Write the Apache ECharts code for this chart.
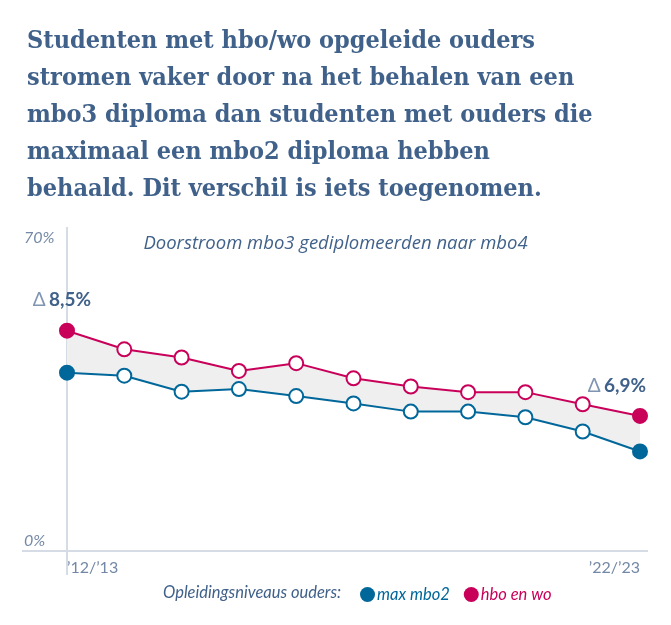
<!DOCTYPE html>
<html>
<head>
<meta charset="utf-8">
<script src="https://cdn.jsdelivr.net/npm/echarts@6/dist/echarts.min.js"></script>
<style>
html,body{margin:0;padding:0;background:#fff;}
#chart{width:671px;height:625px;}
</style>
</head>
<body>
<div id="chart"></div>
<script>
const categories = ["’12/’13","’13/’14","’14/’15","’15/’16","’16/’17","’17/’18","’18/’19","’19/’20","’20/’21","’21/’22","’22/’23"];
const maxMbo2 = [41.2, 40.5, 36.8, 37.4, 35.8, 34.1, 32.2, 32.2, 30.9, 27.6, 23.0];
const hboWo   = [50.9, 46.6, 44.7, 41.6, 43.4, 39.9, 38.0, 36.7, 36.7, 33.9, 31.2];
const deltaLabels = ["8,5%", "6,9%"];
const yTicks = [0, 70];

const BLUE = '#00679a';
const RED = '#c9005a';
const TITLE = '#40618a';
const AXIS = '#d6dce6';
const LABEL = '#7388a6';
const SANS = '"Open Sans", "Noto Sans", sans-serif';

const chart = echarts.init(document.getElementById('chart'));
const last = categories.length - 1;

function pointData(vals, color, withLabel) {
  return vals.map((v, i) => {
    const edge = (i === 0 || i === last);
    const d = {
      value: v,
      itemStyle: { color: edge ? color : '#fff', borderColor: color, borderWidth: 2 }
    };
    if (withLabel && edge) {
      d.label = {
        show: true,
        formatter: '{d|Δ} {v|' + (i === 0 ? deltaLabels[0] : deltaLabels[1]) + '}',
        position: 'top',
        distance: 13,
        offset: i === 0 ? [-5, 0] : [-23, 0],
        rich: {
          d: { color: '#8095b2', fontSize: 19, fontFamily: 'Lato' },
          v: { color: TITLE, fontSize: 19, fontWeight: 'bold', fontFamily: 'Lato' }
        }
      };
    }
    return d;
  });
}

const option = {
  animation: false,
  backgroundColor: '#fff',
  title: [{
    text: 'Studenten met hbo/wo opgeleide ouders\nstromen vaker door na het behalen van een\nmbo3 diploma dan studenten met ouders die\nmaximaal een mbo2 diploma hebben\nbehaald. Dit verschil is iets toegenomen.',
    left: 22, top: 18,
    textStyle: { color: TITLE, fontFamily: '"DejaVu Serif Condensed", "Liberation Serif", serif', fontWeight: 'bold', fontSize: 25, lineHeight: 37 }
  }, {
    text: 'Doorstroom mbo3 gediplomeerden naar mbo4',
    left: 'center', top: 229,
    textStyle: { color: TITLE, fontFamily: SANS, fontStyle: 'italic', fontWeight: 'normal', fontSize: 18.5 }
  }, {
    text: 'Opleidingsniveaus ouders:',
    left: 158, top: 579,
    textStyle: { color: TITLE, fontFamily: 'Lato', fontStyle: 'italic', fontWeight: 'normal', fontSize: 16.5 }
  }],
  legend: {
    left: 355, top: 581,
    icon: 'circle', itemWidth: 15, itemHeight: 15, itemGap: 14,
    data: [
      { name: 'max mbo2', textStyle: { color: BLUE } },
      { name: 'hbo en wo', textStyle: { color: RED } }
    ],
    textStyle: { fontFamily: 'Lato', fontStyle: 'italic', fontSize: 16.5, padding: [0, 0, 0, -3] }
  },
  grid: { left: 67, right: 31, top: 248, bottom: 74, containLabel: false },
  xAxis: {
    type: 'category', data: categories, boundaryGap: false,
    axisLine: { show: false }, axisTick: { show: false },
    axisLabel: {
      interval: last - 1, color: LABEL, fontFamily: 'Lato', fontSize: 16, margin: 9,
      alignMinLabel: 'left', alignMaxLabel: 'right'
    },
    splitLine: { show: false }
  },
  yAxis: {
    type: 'value', min: yTicks[0], max: yTicks[1], interval: yTicks[1] - yTicks[0],
    axisLine: { show: false }, axisTick: { show: false }, splitLine: { show: false },
    axisLabel: {
      formatter: '{value}%', align: 'left', margin: 43, color: LABEL,
      fontFamily: 'Lato', fontStyle: 'italic', fontSize: 16,
      verticalAlign: 'bottom', padding: [0, 0, 2, 0]
    }
  },
  graphic: [
    { type: 'line', z: 0, shape: { x1: 67, y1: 227, x2: 67, y2: 575 }, style: { stroke: AXIS, lineWidth: 2 } },
    { type: 'line', z: 0, shape: { x1: 22, y1: 551, x2: 648, y2: 551 }, style: { stroke: AXIS, lineWidth: 2 } }
  ],
  series: [
    { name: 'base', type: 'line', stack: 'band', data: maxMbo2, symbol: 'none', silent: true,
      lineStyle: { opacity: 0 }, areaStyle: { opacity: 0 }, z: 1 },
    { name: 'band', type: 'line', stack: 'band', data: hboWo.map((v, i) => +(v - maxMbo2[i]).toFixed(2)), symbol: 'none', silent: true,
      lineStyle: { opacity: 0 }, areaStyle: { color: '#efefef', opacity: 1 }, z: 1 },
    { name: 'max mbo2', type: 'line', data: pointData(maxMbo2, BLUE, false), symbol: 'circle', symbolSize: 14,
      color: BLUE, lineStyle: { color: BLUE, width: 2 }, z: 3 },
    { name: 'hbo en wo', type: 'line', data: pointData(hboWo, RED, true), symbol: 'circle', symbolSize: 14,
      color: RED, lineStyle: { color: RED, width: 2 }, z: 3 }
  ]
};
chart.setOption(option);
</script>
</body>
</html>
